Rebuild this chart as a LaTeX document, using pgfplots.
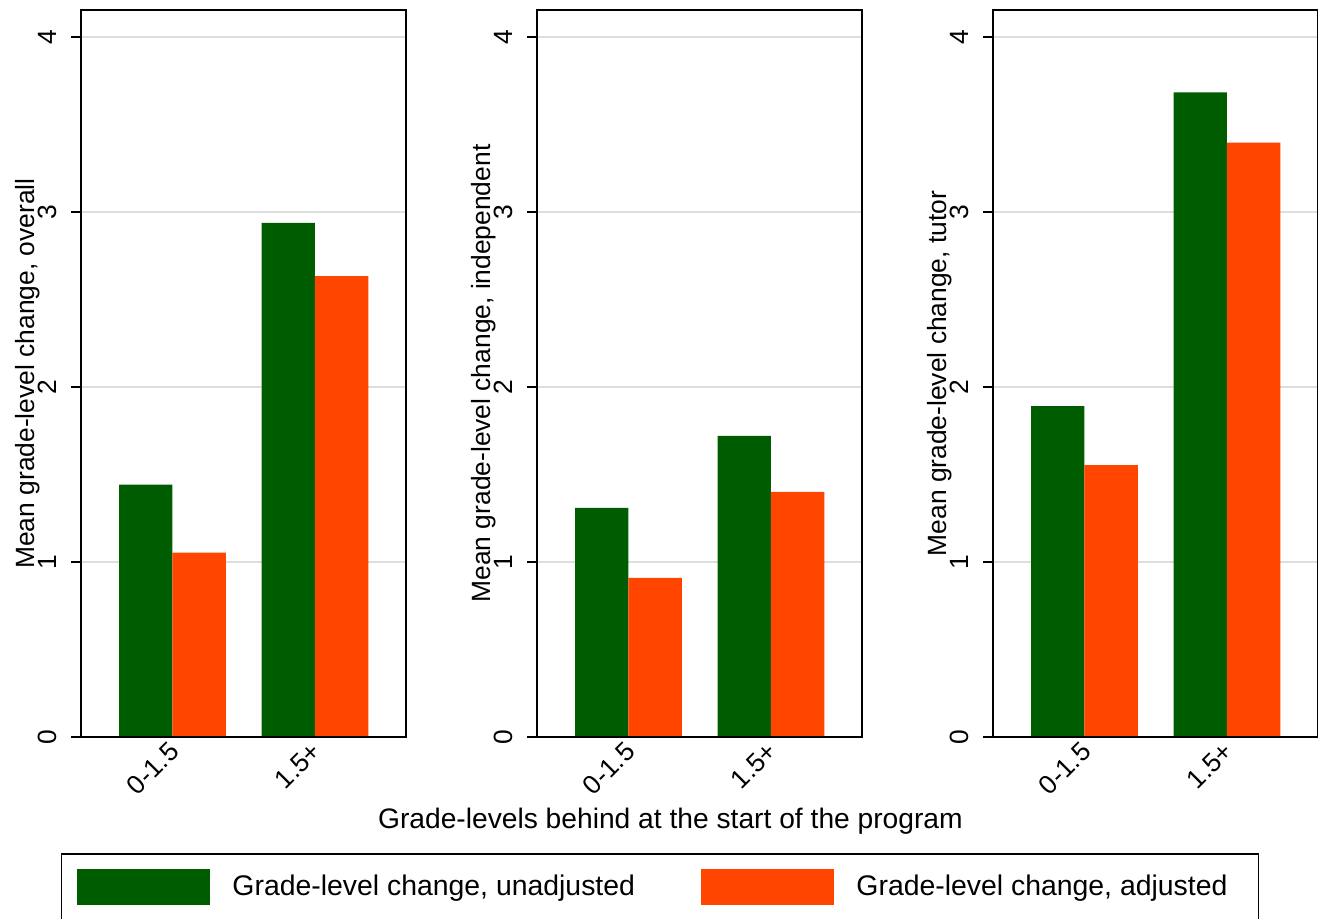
\documentclass[border=0pt]{standalone}
\usepackage{pgfplots}
\pgfplotsset{compat=1.18}
\usepackage{fontspec}
\setmainfont{Liberation Sans}

\definecolor{gcol}{RGB}{0,92,0}
\definecolor{ocol}{RGB}{255,69,0}
\definecolor{gridgray}{RGB}{222,222,222}

\newcommand{\tickfont}{\fontsize{13.2}{15}\selectfont}

% grid behind the bars, axis lines and ticks in front of them
\pgfplotsset{
  layers/gridbehind/.define layer set={
    axis background,axis grid,pre main,main,axis ticks,axis lines,
    axis tick labels,axis descriptions,axis foreground}{
    grid style={/pgfplots/on layer=axis grid},
    tick style={/pgfplots/on layer=axis ticks},
    axis line style={/pgfplots/on layer=axis lines},
    label style={/pgfplots/on layer=axis descriptions},
    legend style={/pgfplots/on layer=axis descriptions},
  },
}

\pgfplotsset{
  panel/.style={
    scale only axis, width=162.5pt, height=363.5pt,
    anchor=south west,
    xmin=-0.642, xmax=1.639, ymin=0, ymax=4.154,
    ybar, bar width=0.375,
    xtick={0,1}, xticklabels={0-1.5,1.5+},
    ytick={0,1,2,3,4},
    xtick pos=bottom, ytick pos=left,
    ymajorgrids, grid style={gridgray, line width=1pt},
    axis line style={line width=1pt},
    major tick length=5pt, tick align=outside,
    ytick style={line width=1pt, black},
    xtick style={draw=none},
    xticklabel style={xshift=-2.5pt, yshift=7.5pt, rotate=45, anchor=north east, inner sep=2.8pt, font=\tickfont},
    yticklabel style={rotate=90, anchor=south, inner xsep=0pt, inner ysep=7pt, font=\tickfont},
    /pgf/number format/assume math mode=true,
    every axis y label/.style={at={(axis description cs:-0.1446,0.5)}, rotate=90, anchor=base, font=\tickfont},
    set layers=gridbehind,
    legend image code/.code={\fill[##1,draw=none] (0pt,-9pt) rectangle (66.5pt,9pt);},
  },
  gbar/.style={fill=gcol, draw=none, bar shift=-0.1875},
  obar/.style={fill=ocol, draw=none, bar shift=0.1875},
}

\begin{document}
\begin{tikzpicture}
% overall
\begin{axis}[panel, at={(40.5pt,90.5pt)},
  ylabel={Mean grade-level change, overall}]
\addplot[gbar] coordinates {(0,1.442) (1,2.937)};
\addplot[obar] coordinates {(0,1.053) (1,2.634)};
\end{axis}
% independent
\begin{axis}[panel, at={(268.5pt,90.5pt)},
  ylabel={Mean grade-level change, independent},
  xlabel={Grade-levels behind at the start of the program},
  every axis x label/.style={at={(axis description cs:0.4105,-0.1252)}, anchor=base, font=\fontsize{14.1}{17}\selectfont},
  legend columns=2,
  legend style={at={(axis description cs:-1.466,-0.1596)}, anchor=north west,
    draw=black, line width=0.9pt, inner xsep=8pt, inner ysep=7.5pt,
    font=\fontsize{14.2}{17}\selectfont, nodes={inner sep=0pt},
    /tikz/every odd column/.append style={column sep=11pt}},
  legend cell align=left]
\addplot[gbar] coordinates {(0,1.309) (1,1.720)};
\addplot[obar] coordinates {(0,0.909) (1,1.400)};
\addlegendentry{\makebox[234.5pt][l]{Grade-level change, unadjusted}}
\addlegendentry{\makebox[193pt][l]{Grade-level change, adjusted}}
\end{axis}
% tutor
\begin{axis}[panel, at={(496.5pt,90.5pt)},
  ylabel={Mean grade-level change, tutor}]
\addplot[gbar] coordinates {(0,1.891) (1,3.684)};
\addplot[obar] coordinates {(0,1.554) (1,3.396)};
\end{axis}
\pgfresetboundingbox
\path[use as bounding box] (0pt,0pt) rectangle (659pt,459pt);
\end{tikzpicture}
\end{document}
